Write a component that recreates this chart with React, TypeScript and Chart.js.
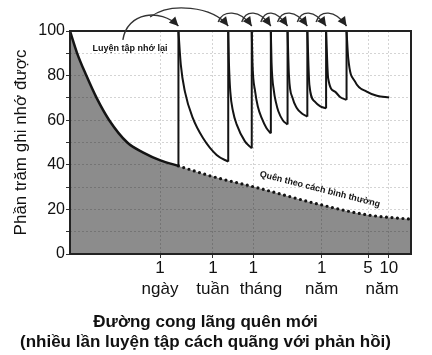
import React, { useEffect, useRef } from 'react';
import { Chart, registerables } from 'chart.js';

Chart.register(...registerables);

const FONT = '"Liberation Sans", Arial, Helvetica, sans-serif';

// Y axis ticks
const yTicks = [0, 10, 20, 30, 40, 50, 60, 70, 80, 90, 100];
const yLabels = ['0', '', '20', '', '40', '', '60', '', '80', '', '100'];

// X axis (arbitrary time position 0..100)
const xTickPos = [26.4, 41.9, 53.7, 56.0, 73.8, 87.4, 91.5, 93.5];
const xTickLines = [
  ['1', 'ngày'],
  ['1', 'tuần'],
  ['1', ''],
  ['', 'tháng'],
  ['1', 'năm'],
  ['5', ''],
  ['', 'năm'],
  ['10', ''],
];
const xTickIsGrid = [true, true, true, false, true, true, false, true];

// Original forgetting curve (solid part)
const forgetX = [0, 2.1, 4.8, 7.8, 11.5, 16.8, 21.5, 26.5, 31.8];
const forgetY = [100, 90, 80, 70, 60, 50, 45.5, 42, 39.5];

// Normal forgetting (dotted part)
const normalX = [31.8, 41.9, 53.7, 73.8, 87.4, 100];
const normalY = [39.5, 34.7, 30.2, 22, 17.5, 15.6];

// Review (repetition) positions
const reviewX = [31.8, 46.4, 53.3, 58.9, 63.8, 69.6, 75.1, 81.1];

// Decay after each review (points after the 100% start)
const decayX = [
  [32.5, 33.7, 36.0, 39.0, 43.0, 46.4],
  [46.6, 47.0, 47.8, 48.9, 51.3, 53.3],
  [53.5, 54.3, 55.1, 56.2, 57.6, 58.9],
  [59.1, 59.8, 60.4, 61.1, 62.4, 63.8],
  [64.2, 65.3, 66.5, 68.0, 69.6],
  [70.2, 71.8, 73.3, 75.1],
  [75.7, 77.7, 79.3, 81.1],
  [81.6, 83.6, 87.0, 90.0, 93.6],
];
const decayY = [
  [84.8, 72.8, 61, 52, 44.4, 41.4],
  [86, 73, 64, 58, 50.5, 47.4],
  [86, 72.8, 66, 61, 56.5, 54.1],
  [86, 73, 68, 64, 60, 58.1],
  [80.3, 69.8, 65.5, 63, 61.6],
  [75.8, 68.3, 66.3, 65.3],
  [78.8, 72.8, 70.3, 69.1],
  [87.7, 77.3, 72.8, 71, 70.2],
];

const reviewLabel = 'Luyện tập nhớ lại';
const normalLabel = 'Quên theo cách bình thường';
const yTitle = 'Phần trăm ghi nhớ được';
const chartTitle = ['Đường cong lãng quên mới', '(nhiều lần luyện tập cách quãng với phản hồi)'];

const pts = (xs: number[], ys: number[]) => xs.map((x, i) => ({ x, y: ys[i] }));

export default function App() {
  const ref = useRef<HTMLCanvasElement>(null);

  useEffect(() => {
    const canvas = ref.current;
    if (!canvas) return;
    const gray = '#8c8c8c';
    const ink = '#141414';

    const datasets: any[] = [];
    // solid forgetting line
    datasets.push({
      data: pts(forgetX, forgetY),
      fill: false,
      borderColor: ink,
      borderWidth: 2.5,
      cubicInterpolationMode: 'monotone',
      pointRadius: 0,
    });
    // dotted normal forgetting line
    datasets.push({
      data: pts(normalX, normalY),
      fill: false,
      borderColor: ink,
      borderWidth: 3.2,
      borderDash: [0, 5.5],
      borderCapStyle: 'round',
      cubicInterpolationMode: 'monotone',
      pointRadius: 0,
    });
    let prev = forgetY[forgetY.length - 1];
    reviewX.forEach((rx, i) => {
      datasets.push({
        data: [{ x: rx, y: prev }, { x: rx, y: 100 }],
        borderColor: ink,
        borderWidth: 2,
        pointRadius: 0,
        fill: false,
        tension: 0,
      });
      datasets.push({
        data: pts([rx, ...decayX[i]], [100, ...decayY[i]]),
        borderColor: ink,
        borderWidth: 2,
        pointRadius: 0,
        fill: false,
        cubicInterpolationMode: 'monotone',
      });
      prev = decayY[i][decayY[i].length - 1];
    });
    // single gray area under whole forgetting curve
    datasets.push({
      data: pts([...forgetX, ...normalX.slice(1)], [...forgetY, ...normalY.slice(1)]),
      fill: 'origin',
      backgroundColor: gray,
      borderColor: 'rgba(0,0,0,0)',
      borderWidth: 0,
      cubicInterpolationMode: 'monotone',
      pointRadius: 0,
    });

    const overlay = {
      id: 'overlay',
      afterDraw(chart: any) {
        const { ctx, chartArea: a, scales } = chart;
        const xs = scales.x;
        const ys = scales.y;
        ctx.save();
        // frame
        ctx.strokeStyle = '#222';
        ctx.lineWidth = 2;
        ctx.strokeRect(a.left, a.top, a.right - a.left, a.bottom - a.top);

        // arrows
        ctx.strokeStyle = '#333';
        ctx.fillStyle = '#222';
        ctx.lineWidth = 1.4;
        const arrow = (sx: number, sy: number, c1x: number, c1y: number, c2x: number, c2y: number, ex: number, ey: number) => {
          ctx.beginPath();
          ctx.moveTo(sx, sy);
          ctx.bezierCurveTo(c1x, c1y, c2x, c2y, ex, ey);
          ctx.stroke();
          const ang = Math.atan2(ey - c2y, ex - c2x);
          const L = 9;
          const W = 4.5;
          const ca = Math.cos(ang);
          const sa = Math.sin(ang);
          ctx.beginPath();
          ctx.moveTo(ex, ey);
          ctx.lineTo(ex - L * ca + W * sa, ey - L * sa - W * ca);
          ctx.lineTo(ex - L * ca - W * sa, ey - L * sa + W * ca);
          ctx.closePath();
          ctx.fill();
        };
        const top = a.top;
        const lp = reviewX.map((v) => xs.getPixelForValue(v));
        const s1x = xs.getPixelForValue(15.5);
        const s1y = ys.getPixelForValue(96);
        arrow(s1x, s1y, s1x + 4, top - 19, lp[0] - 18, top - 23, lp[0], top - 5);
        const s2x = xs.getPixelForValue(23.5);
        arrow(s2x, top - 14, s2x + 20, top - 29, lp[1] - 16, top - 25, lp[1], top - 5);
        for (let i = 2; i < lp.length; i++) {
          const sx = lp[i - 1] - 10;
          arrow(sx, top - 9, sx + 4, top - 21, lp[i] - 12, top - 22, lp[i], top - 5);
        }

        // annotations
        ctx.fillStyle = '#111';
        ctx.font = `bold 9px ${FONT}`;
        ctx.textAlign = 'center';
        ctx.textBaseline = 'middle';
        ctx.fillText(reviewLabel, xs.getPixelForValue(17.6), ys.getPixelForValue(92));
        ctx.translate(xs.getPixelForValue(73.3), ys.getPixelForValue(29));
        ctx.rotate(0.25);
        ctx.fillText(normalLabel, 0, 0);
        ctx.restore();
      },
    };

    const gridColor = 'rgba(0,0,0,0.17)';

    const chart = new Chart(canvas, {
      type: 'line',
      data: { datasets },
      plugins: [overlay],
      options: {
        animation: false,
        responsive: false,
        events: [],
        layout: { padding: { top: 31, right: 21, left: 0, bottom: 0 } },
        plugins: {
          legend: { display: false },
          tooltip: { enabled: false },
          filler: { drawTime: 'beforeDatasetsDraw' },
          title: {
            display: true,
            position: 'bottom',
            text: chartTitle,
            color: '#111',
            font: { family: FONT, size: 17, weight: 'bold', lineHeight: 20 / 17 },
            padding: { top: 6, bottom: 3 },
          },
        },
        scales: {
          x: {
            type: 'linear',
            min: 0,
            max: 100,
            afterBuildTicks: (s: any) => {
              s.ticks = xTickPos.map((v) => ({ value: v }));
            },
            afterFit: (s: any) => {
              s.height = 52;
            },
            ticks: {
              autoSkip: false,
              maxRotation: 0,
              minRotation: 0,
              padding: 0,
              color: '#111',
              font: { family: FONT, size: 17, lineHeight: 21 / 17 },
              callback: (_v: any, i: number) => xTickLines[i],
            },
            grid: {
              z: 1,
              color: (c: any) => (xTickIsGrid[c.index] ? gridColor : 'rgba(0,0,0,0)'),
              tickColor: (c: any) => (xTickIsGrid[c.index] ? '#333' : 'rgba(0,0,0,0)'),
              tickLength: 4,
              lineWidth: 1,
            },
            border: { display: false, dash: [2, 2] },
          },
          y: {
            type: 'linear',
            min: 0,
            max: 100,
            afterBuildTicks: (s: any) => {
              s.ticks = yTicks.map((v) => ({ value: v }));
            },
            afterFit: (s: any) => {
              s.width = 70;
            },
            ticks: {
              autoSkip: false,
              padding: 1,
              color: '#111',
              font: { family: FONT, size: 16 },
              callback: (_v: any, i: number) => yLabels[i],
            },
            grid: {
              z: 1,
              color: gridColor,
              tickColor: '#333',
              tickLength: 4,
              lineWidth: 1,
            },
            border: { display: false, dash: [2, 2] },
            title: {
              display: true,
              text: yTitle,
              color: '#111',
              font: { family: FONT, size: 17 },
              padding: { top: 11, bottom: 0 },
            },
          },
        },
      },
    } as any);

    return () => chart.destroy();
  }, []);

  return (
    <div style={{ position: 'fixed', left: 0, top: 0, width: 432, height: 355, background: '#fff' }}>
      <canvas ref={ref} width={432} height={355} style={{ display: 'block' }} />
    </div>
  );
}
